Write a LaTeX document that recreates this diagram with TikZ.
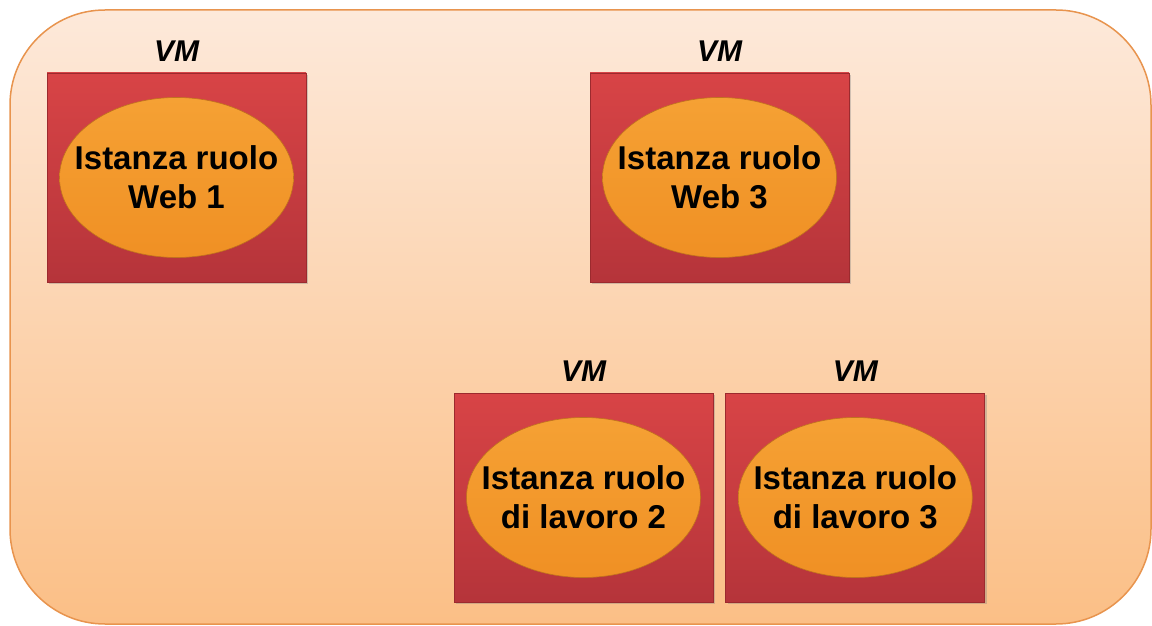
\documentclass[tikz,border=0pt]{standalone}
\usepackage{fontspec}
\setmainfont{Liberation Sans}
\usetikzlibrary{shapes.geometric}
\usetikzlibrary{shadows}
\usetikzlibrary{positioning}

\definecolor{cloudtop}{HTML}{FDE9DA}
\definecolor{cloudbot}{HTML}{FBBF86}
\definecolor{cloudline}{HTML}{E8944E}
\definecolor{vmtop}{HTML}{D84446}
\definecolor{vmbot}{HTML}{B5343A}
\definecolor{vmline}{HTML}{9C2A2E}
\definecolor{roletop}{HTML}{F5A134}
\definecolor{rolemid}{HTML}{F9AB3E}
\definecolor{rolebot}{HTML}{F09024}

\tikzset{
  vmbox/.style={draw=vmline, line width=0.8pt, top color=vmtop, bottom color=vmbot,
    minimum width=259pt, minimum height=209pt, inner sep=0pt,
    drop shadow={shadow xshift=2pt, shadow yshift=-2pt, opacity=0.35}},
  role/.style={ellipse, draw=rolebot!80!black, line width=0.6pt,
    top color=roletop, middle color=rolemid, bottom color=rolebot,
    minimum width=234pt, minimum height=160pt, inner xsep=-20pt, inner ysep=0pt,
    align=center, font=\bfseries\fontsize{33}{39}\selectfont},
  vmlabel/.style={font=\bfseries\itshape\fontsize{30}{32}\selectfont, inner sep=0pt}
}

\begin{document}
\begin{tikzpicture}[x=1pt, y=-1pt]
  \useasboundingbox (0,0) rectangle (1152,626);
  % cloud service
  \draw[cloudline, line width=1.5pt, rounded corners=95pt, top color=cloudtop, bottom color=cloudbot]
    (10,10) rectangle (1151,624);

  % virtual machines
  \node[vmbox] (b1) at (176.5,177.5) {};
  \node[vmbox] (b2) at (719.5,177.5) {};
  \node[vmbox] (b3) at (583.5,497.5) {};
  \node[vmbox, right=12pt of b3] (b4) {};

  % role instances
  \node[role] (r1) at (b1) {Istanza ruolo\\Web 1};
  \node[role] (r2) at (b2) {Istanza ruolo\\Web 3};
  \node[role] (r3) at (b3) {Istanza ruolo\\di lavoro 2};
  \node[role] (r4) at (b4) {Istanza ruolo\\di lavoro 3};

  % labels
  \node[vmlabel, above=11pt of b1] (l1) {VM};
  \node[vmlabel, above=11pt of b2] (l2) {VM};
  \node[vmlabel, above=11pt of b3] (l3) {VM};
  \node[vmlabel, above=11pt of b4] (l4) {VM};
\end{tikzpicture}
\end{document}
